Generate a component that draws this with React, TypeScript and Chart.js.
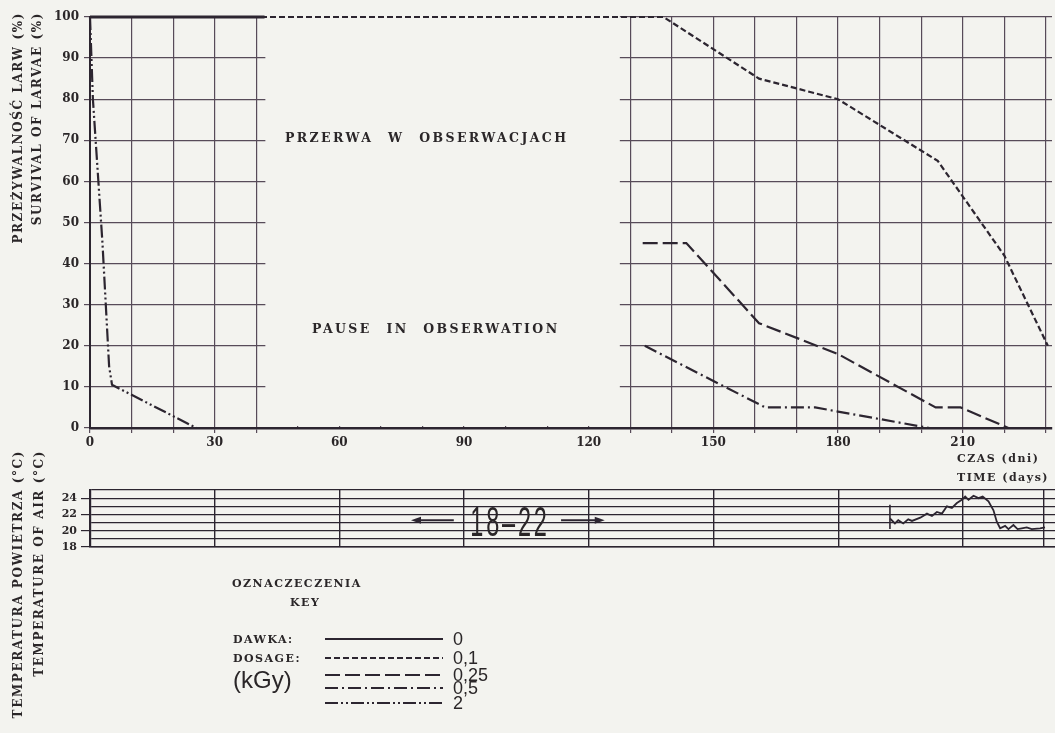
import React, { useEffect, useRef } from "react";
import { Chart, registerables } from "chart.js";
Chart.register(...registerables);

const BG = "#f3f3ef";
const INK = "#2c2530";
const GRID = "#574b59";
const TEXT = "#2a2628";
const CLEAR = "rgba(0,0,0,0)";
const serif = "'DejaVu Serif', 'Liberation Serif', serif";
const sans = "'Liberation Sans', Arial, sans-serif";

// ---- survival of larvae (%) vs time (days) ----
const days0 = [0, 42];
const surv0 = [100, 100];
const days01 = [0, 138, 161, 180, 204, 220, 230.5];
const surv01 = [100, 100, 85, 80, 65, 42, 20];
const days025 = [133, 143.5, 161, 180, 203.5, 209.5, 221];
const surv025 = [45, 45, 25.5, 18, 5, 5, 0];
const days05 = [133.5, 162.5, 174.5, 202];
const surv05 = [20, 5, 5, 0];
const days2 = [0, 0.7, 3, 4.6, 5.3, 25.6];
const surv2 = [100, 80, 45, 15, 10.5, 0];

// ---- air temperature (°C) ----
const tempDays = [192.4, 193.6, 194.4, 195.6, 196.8, 197.7, 199.7, 201.3, 202.5, 203.7, 204.9, 206.1, 207.3, 208.5, 209.7, 210.5, 211.3, 212.5, 213.7, 214.7, 216.1, 217.3, 218.1, 218.9, 220.1, 220.9, 222.1, 223.1, 224.1, 225.3, 226.5, 228.5, 229.7];
const tempC = [21.5, 20.9, 21.3, 20.9, 21.4, 21.2, 21.6, 22.1, 21.8, 22.3, 22.1, 23.0, 22.8, 23.4, 23.8, 24.2, 23.8, 24.3, 24.0, 24.2, 23.6, 22.5, 21.1, 20.3, 20.6, 20.2, 20.7, 20.2, 20.3, 20.4, 20.2, 20.3, 20.4];
const markDays = [192.4, 192.4];
const markC = [23.2, 20.2];

// ---- ticks ----
const dayTicks = [0, 10, 20, 30, 40, 50, 60, 70, 80, 90, 100, 110, 120, 130, 140, 150, 160, 170, 180, 190, 200, 210, 220, 230];
const dayLabels = [0, 30, 60, 90, 120, 150, 180, 210];
const survTicks = [0, 10, 20, 30, 40, 50, 60, 70, 80, 90, 100];
const tempGridDays = [0, 30, 60, 90, 120, 150, 180, 210, 229.5];
const tempLines = [18, 19, 20, 21, 22, 23, 24, 25];
const tempLabels = [18, 20, 22, 24];
const pauseFrom = 42.2;
const pauseTo = 127.5;

const doses = ["0", "0,1", "0,25", "0,5", "2"];
const dashes: number[][] = [[], [6, 3], [15, 5], [13, 4, 2, 4], [13, 3, 2, 3, 2, 3]];

const toPts = (xs: number[], ys: number[]) => xs.map((x, i) => ({ x, y: ys[i] }));
const line = (label: string, xs: number[], ys: number[], dash: number[], w: number) => ({
  label,
  data: toPts(xs, ys),
  borderColor: INK,
  borderWidth: w,
  borderDash: dash,
  pointRadius: 0,
  tension: 0,
  fill: false,
  clip: false as any,
  spanGaps: false,
});

const pauseMask = {
  id: "pauseMask",
  beforeDatasetsDraw(chart: any) {
    const { ctx, chartArea: a, scales } = chart;
    const l = scales.x.getPixelForValue(pauseFrom);
    const r = scales.x.getPixelForValue(pauseTo);
    ctx.save();
    ctx.fillStyle = BG;
    ctx.fillRect(l, a.top - 2, r - l, a.bottom - a.top);
    ctx.restore();
  },
};

const tempDecor = {
  id: "tempDecor",
  afterDraw(chart: any) {
    const { ctx, scales } = chart;
    const y = scales.y.getPixelForValue(21.3);
    const arrow = (from: number, to: number) => {
      const x1 = scales.x.getPixelForValue(from);
      const x2 = scales.x.getPixelForValue(to);
      const d = Math.sign(x2 - x1);
      ctx.beginPath();
      ctx.moveTo(x1, y);
      ctx.lineTo(x2 - d * 6, y);
      ctx.stroke();
      ctx.beginPath();
      ctx.moveTo(x2, y);
      ctx.lineTo(x2 - d * 10, y - 3.5);
      ctx.lineTo(x2 - d * 10, y + 3.5);
      ctx.closePath();
      ctx.fill();
    };
    ctx.save();
    ctx.strokeStyle = INK;
    ctx.fillStyle = INK;
    ctx.lineWidth = 2;
    arrow(87.5, 77.2);
    arrow(113.3, 123.8);
    // legend samples
    const rows = [179, 198, 215, 228, 243];
    rows.forEach((ry, i) => {
      ctx.beginPath();
      ctx.setLineDash(dashes[i]);
      ctx.lineWidth = 2;
      ctx.moveTo(325, ry);
      ctx.lineTo(443, ry);
      ctx.stroke();
    });
    ctx.restore();
  },
};

const tickFont = { family: serif, weight: "bold" as const, size: 12 };

function Label(props: { x: number; y: number; text: string; style?: any; center?: boolean }) {
  const { x, y, text, style, center } = props;
  return (
    <div
      style={{
        position: "absolute",
        left: x,
        top: y,
        transform: `translate(${center ? "-50%" : "0"}, -50%)`,
        whiteSpace: "pre",
        lineHeight: 1,
        color: TEXT,
        ...style,
      }}
    >
      {text}
    </div>
  );
}

function VTitle(props: { cx: number; top: number; text: string }) {
  return (
    <div
      style={{
        position: "absolute",
        left: props.cx - 8,
        top: props.top,
        width: 16,
        writingMode: "vertical-rl",
        transform: "rotate(180deg)",
        whiteSpace: "nowrap",
        lineHeight: "16px",
        font: `bold 12px ${serif}`,
        letterSpacing: "1.6px",
        color: TEXT,
      }}
    >
      {props.text}
    </div>
  );
}

const capsBold = { font: `bold 12.5px ${serif}`, letterSpacing: "2.4px", wordSpacing: "8px" };
const smallBold = { font: `bold 11px ${serif}`, letterSpacing: "1.5px" };

export default function App() {
  const mainRef = useRef<HTMLCanvasElement>(null);
  const tempRef = useRef<HTMLCanvasElement>(null);

  useEffect(() => {
    const c1 = new Chart(mainRef.current as HTMLCanvasElement, {
      type: "line",
      data: {
        datasets: [
          line("0", days0, surv0, dashes[0], 2.8),
          line("0,1", days01, surv01, dashes[1], 2.2),
          line("0,25", days025, surv025, dashes[2], 2.2),
          line("0,5", days05, surv05, dashes[3], 2.2),
          line("2", days2, surv2, dashes[4], 2.2),
        ] as any,
      },
      options: {
        responsive: false,
        animation: false,
        devicePixelRatio: 1,
        layout: { padding: { top: 17, right: 3, left: 0, bottom: 0 } },
        plugins: { legend: { display: false }, tooltip: { enabled: false } },
        scales: {
          x: {
            type: "linear",
            min: 0,
            max: 231.5,
            afterFit: (s: any) => {
              s.height = 32;
            },
            afterBuildTicks: (s: any) => {
              s.ticks = dayTicks.map((v) => ({ value: v }));
            },
            ticks: {
              autoSkip: false,
              maxRotation: 0,
              padding: 3,
              color: TEXT,
              font: tickFont,
              callback: (v: any) => (dayLabels.includes(Number(v)) ? String(v) : ""),
            },
            grid: {
              color: GRID,
              lineWidth: 1.2,
              tickLength: 5,
              tickColor: (c: any) => {
                const v = c.tick ? c.tick.value : 0;
                return v > pauseFrom && v < pauseTo ? CLEAR : GRID;
              },
            },
            border: { color: INK, width: 2.5 },
          },
          y: {
            type: "linear",
            min: 0,
            max: 100,
            afterFit: (s: any) => {
              s.width = 90;
            },
            afterBuildTicks: (s: any) => {
              s.ticks = survTicks.map((v) => ({ value: v }));
            },
            ticks: { autoSkip: false, padding: 5, color: TEXT, font: tickFont },
            grid: { color: GRID, lineWidth: 1.2, tickLength: 6, tickColor: GRID },
            border: { color: INK, width: 2 },
          },
        },
      } as any,
      plugins: [pauseMask],
    });

    const c2 = new Chart(tempRef.current as HTMLCanvasElement, {
      type: "line",
      data: {
        datasets: [
          line("temperatura", tempDays, tempC, [], 1.8),
          line("start", markDays, markC, [], 1.6),
        ] as any,
      },
      options: {
        responsive: false,
        animation: false,
        devicePixelRatio: 1,
        layout: { padding: { top: 30, right: 0, left: 0, bottom: 0 } },
        plugins: { legend: { display: false }, tooltip: { enabled: false } },
        scales: {
          x: {
            type: "linear",
            min: 0,
            max: 232.1,
            afterFit: (s: any) => {
              s.height = 186;
            },
            afterBuildTicks: (s: any) => {
              s.ticks = tempGridDays.map((v) => ({ value: v }));
            },
            ticks: { display: false, autoSkip: false },
            grid: { color: INK, lineWidth: 1.4, drawTicks: false },
            border: { color: INK, width: 1.6 },
          },
          y: {
            type: "linear",
            min: 18,
            max: 25,
            afterFit: (s: any) => {
              s.width = 90;
            },
            afterBuildTicks: (s: any) => {
              s.ticks = tempLines.map((v) => ({ value: v }));
            },
            ticks: {
              autoSkip: false,
              padding: 4,
              color: TEXT,
              font: { family: serif, weight: "bold", size: 11 },
              callback: (v: any) => (tempLabels.includes(Number(v)) ? String(v) : ""),
            },
            grid: {
              color: INK,
              lineWidth: 1.2,
              tickLength: 9,
              tickColor: (c: any) => (c.tick && tempLabels.includes(c.tick.value) ? INK : CLEAR),
            },
            border: { color: INK, width: 2.2 },
          },
        },
      } as any,
      plugins: [tempDecor],
    });

    return () => {
      c1.destroy();
      c2.destroy();
    };
  }, []);

  const rowsY = [639, 658, 675, 688, 703];

  return (
    <div style={{ position: "fixed", left: 0, top: 0, width: 1055, height: 733, background: BG, overflow: "hidden" }}>
      <canvas ref={mainRef} width={1055} height={460} style={{ position: "absolute", left: 0, top: 0 }} />
      <canvas ref={tempRef} width={1055} height={273} style={{ position: "absolute", left: 0, top: 460 }} />

      <VTitle cx={19} top={12} text="PRZEŻYWALNOŚĆ LARW (%)" />
      <VTitle cx={38} top={12} text="SURVIVAL OF LARVAE (%)" />
      <VTitle cx={19} top={450} text="TEMPERATURA POWIETRZA (°C)" />
      <VTitle cx={40} top={450} text="TEMPERATURE OF AIR (°C)" />

      <Label x={285} y={137} text="PRZERWA W OBSERWACJACH" style={capsBold} />
      <Label x={312} y={328} text="PAUSE IN OBSERWATION" style={capsBold} />

      <Label x={957} y={458} text="CZAS (dni)" style={smallBold} />
      <Label x={957} y={477} text="TIME (days)" style={smallBold} />

      <Label
        x={510}
        y={522}
        center
        text="18–22"
        style={{ font: `42px ${sans}`, letterSpacing: "5px", transform: "translate(-50%, -50%) scaleX(0.56)" }}
      />

      <Label x={232} y={583} text="OZNACZECZENIA" style={smallBold} />
      <Label x={290} y={602} text="KEY" style={smallBold} />
      <Label x={233} y={639} text="DAWKA:" style={smallBold} />
      <Label x={233} y={658} text="DOSAGE:" style={smallBold} />
      <Label x={233} y={680} text="(kGy)" style={{ font: `24px ${sans}` }} />
      {doses.map((d, i) => (
        <Label key={d} x={453} y={rowsY[i]} text={d} style={{ font: `18px ${sans}` }} />
      ))}
    </div>
  );
}
